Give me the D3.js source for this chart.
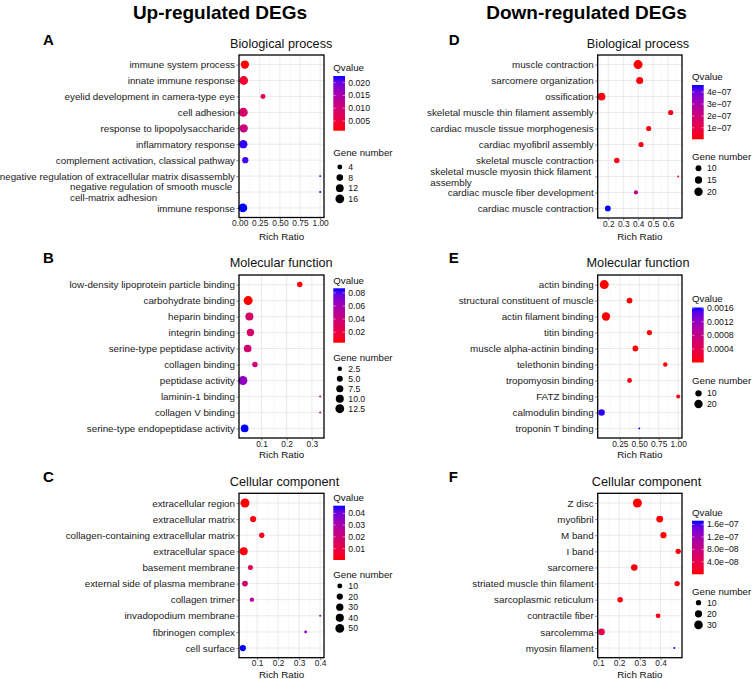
<!DOCTYPE html>
<html><head><meta charset="utf-8">
<script src="https://cdn.jsdelivr.net/npm/d3@7"></script>
<style>
body{margin:0;background:#fff}
text{font-family:"Liberation Sans",Arial,Helvetica,sans-serif}
</style>
</head><body>
<svg id="chart" width="753" height="679"></svg>
<script>
// ---------------- DATA ----------------
// A: Up-regulated, Biological process
const bpUpTerms = ["immune system process","innate immune response","eyelid development in camera-type eye","cell adhesion","response to lipopolysaccharide","inflammatory response","complement activation, classical pathway","negative regulation of extracellular matrix disassembly","negative regulation of smooth muscle \ncell-matrix adhesion","immune response"];
const bpUpRatio = [0.065,0.05,0.29,0.045,0.05,0.045,0.07,1.0,1.0,0.04];
const bpUpGenes = [14,16,4,17,14,14,7,1,1,16];
const bpUpQ = [0.0012,0.0038,0.0055,0.0087,0.0108,0.0220,0.0215,0.0226,0.0226,0.0226];
const bpUpXTicks = [0,0.25,0.5,0.75,1.0];
const bpUpXLabels = ["0.00","0.25","0.50","0.75","1.00"];
const bpUpQBreaks = [0.005,0.010,0.015,0.020];
const bpUpQLabels = ["0.005","0.010","0.015","0.020"];
const bpUpGeneBreaks = [4,8,12,16];
const bpUpGeneLabels = ["4","8","12","16"];

// B: Up-regulated, Molecular function
const mfUpTerms = ["low-density lipoprotein particle binding","carbohydrate binding","heparin binding","integrin binding","serine-type peptidase activity","collagen binding","peptidase activity","laminin-1 binding","collagen V binding","serine-type endopeptidase activity"];
const mfUpRatio = [0.252,0.047,0.052,0.056,0.045,0.074,0.026,0.333,0.333,0.033];
const mfUpGenes = [4,13,10,8,9,4,13,1,1,9];
const mfUpQ = [0.0055,0.004,0.033,0.033,0.0355,0.039,0.066,0.0555,0.0555,0.087];
const mfUpXTicks = [0.1,0.2,0.3];
const mfUpXLabels = ["0.1","0.2","0.3"];
const mfUpQBreaks = [0.02,0.04,0.06,0.08];
const mfUpQLabels = ["0.02","0.04","0.06","0.08"];
const mfUpGeneBreaks = [2.5,5,7.5,10,12.5];
const mfUpGeneLabels = ["2.5","5.0","7.5","10.0","12.5"];

// C: Up-regulated, Cellular component
const ccUpTerms = ["extracellular region","extracellular matrix","collagen-containing extracellular matrix","extracellular space","basement membrane","external side of plasma membrane","collagen trimer","invadopodium membrane","fibrinogen complex","cell surface"];
const ccUpRatio = [0.042,0.081,0.122,0.036,0.068,0.042,0.075,0.40,0.331,0.032];
const ccUpGenes = [52,20,13,39,11,16,7,1,2,20];
const ccUpQ = [0.0002,0.0016,0.0025,0.0011,0.0118,0.0188,0.0257,0.0327,0.0336,0.0466];
const ccUpXTicks = [0.1,0.2,0.3,0.4];
const ccUpXLabels = ["0.1","0.2","0.3","0.4"];
const ccUpQBreaks = [0.01,0.02,0.03,0.04];
const ccUpQLabels = ["0.01","0.02","0.03","0.04"];
const ccUpGeneBreaks = [10,20,30,40,50];
const ccUpGeneLabels = ["10","20","30","40","50"];

// D: Down-regulated, Biological process
const bpDownTerms = ["muscle contraction","sarcomere organization","ossification","skeletal muscle thin filament assembly","cardiac muscle tissue morphogenesis","cardiac myofibril assembly","skeletal muscle contraction","skeletal muscle myosin thick filament \nassembly","cardiac muscle fiber development","cardiac muscle contraction"];
const bpDownRatio = [0.399,0.41,0.155,0.617,0.47,0.419,0.257,0.667,0.385,0.197];
const bpDownGenes = [23,14,17,8,8,8,9,4,6,10];
const bpDownQ = [3e-9,1e-8,1.5e-8,2e-8,2.5e-8,2e-8,3e-8,4e-8,2.3e-7,4.6e-7];
const bpDownXTicks = [0.2,0.3,0.4,0.5,0.6];
const bpDownXLabels = ["0.2","0.3","0.4","0.5","0.6"];
const bpDownQBreaks = [1e-7,2e-7,3e-7,4e-7];
const bpDownQLabels = ["1e\u221207","2e\u221207","3e\u221207","4e\u221207"];
const bpDownGeneBreaks = [10,15,20];
const bpDownGeneLabels = ["10","15","20"];

// E: Down-regulated, Molecular function
const mfDownTerms = ["actin binding","structural constituent of muscle","actin filament binding","titin binding","muscle alpha-actinin binding","telethonin binding","tropomyosin binding","FATZ binding","calmodulin binding","troponin T binding"];
const mfDownRatio = [0.05,0.375,0.072,0.63,0.45,0.835,0.375,1.0,0.015,0.5];
const mfDownGenes = [24,8,20,6,8,4,5,3,11,1];
const mfDownQ = [1e-6,2e-6,5e-6,1e-5,2e-5,3e-5,5e-5,6e-5,0.00158,0.00162];
const mfDownXTicks = [0.25,0.5,0.75,1.0];
const mfDownXLabels = ["0.25","0.50","0.75","1.00"];
const mfDownQBreaks = [0.0004,0.0008,0.0012,0.0016];
const mfDownQLabels = ["0.0004","0.0008","0.0012","0.0016"];
const mfDownGeneBreaks = [10,20];
const mfDownGeneLabels = ["10","20"];

// F: Down-regulated, Cellular component
const ccDownTerms = ["Z disc","myofibril","M band","I band","sarcomere","striated muscle thin filament","sarcoplasmic reticulum","contractile fiber","sarcolemma","myosin filament"];
const ccDownRatio = [0.288,0.396,0.414,0.485,0.273,0.48,0.205,0.388,0.115,0.466];
const ccDownGenes = [33,18,14,10,16,10,11,8,16,3];
const ccDownQ = [1e-10,1e-9,2e-9,3e-9,4e-9,5e-9,6e-9,8e-9,4.3e-8,1.72e-7];
const ccDownXTicks = [0.1,0.2,0.3,0.4];
const ccDownXLabels = ["0.1","0.2","0.3","0.4"];
const ccDownQBreaks = [4e-8,8e-8,1.2e-7,1.6e-7];
const ccDownQLabels = ["4.0e\u221208","8.0e\u221208","1.2e\u221207","1.6e\u221207"];
const ccDownGeneBreaks = [10,20,30];
const ccDownGeneLabels = ["10","20","30"];

const headers = ["Up-regulated DEGs","Down-regulated DEGs"];
const panelTitles = ["Biological process","Molecular function","Cellular component"];
const panelLetters = ["A","B","C","D","E","F"];
const xAxisTitle = "Rich Ratio";

// ---------------- DRAWING ----------------
const svg = d3.select("#chart");
const defs = svg.append("defs");
const K = 0.5; // size scale factor
const FS_Y = 9.8, FS_X = 8.4;

svg.append("text").attr("x",220).attr("y",19).attr("text-anchor","middle")
  .attr("font-size",19).attr("font-weight","bold").text(headers[0]);
svg.append("text").attr("x",586.5).attr("y",19).attr("text-anchor","middle")
  .attr("font-size",19).attr("font-weight","bold").text(headers[1]);

const panels = [
 {terms:bpUpTerms, ratio:bpUpRatio, genes:bpUpGenes, q:bpUpQ, xt:bpUpXTicks, xl:bpUpXLabels, qb:bpUpQBreaks, ql:bpUpQLabels, gb:bpUpGeneBreaks, gl:bpUpGeneLabels,
  title:panelTitles[0], letter:panelLetters[0],
  box:{x0:239,x1:324,y0:55,y1:217.5}, tpos:[281.2,43.3], lpos:[43,45], xty:237,
  leg:{x:333.3,qt:67.7,bt:76,bh:54.7,gt:152.7,i0:167,st:10.6}},
 {terms:mfUpTerms, ratio:mfUpRatio, genes:mfUpGenes, q:mfUpQ, xt:mfUpXTicks, xl:mfUpXLabels, qb:mfUpQBreaks, ql:mfUpQLabels, gb:mfUpGeneBreaks, gl:mfUpGeneLabels,
  title:panelTitles[1], letter:panelLetters[1],
  box:{x0:239,x1:324,y0:275,y1:438}, tpos:[281.2,262.7], lpos:[43,262.7], xty:455,
  leg:{x:333.3,qt:280.7,bt:288.3,bh:54.4,gt:357.3,i0:368.7,st:10}},
 {terms:ccUpTerms, ratio:ccUpRatio, genes:ccUpGenes, q:ccUpQ, xt:ccUpXTicks, xl:ccUpXLabels, qb:ccUpQBreaks, ql:ccUpQLabels, gb:ccUpGeneBreaks, gl:ccUpGeneLabels,
  title:panelTitles[2], letter:panelLetters[2],
  box:{x0:239,x1:324,y0:493.3,y1:657.7}, tpos:[284.5,481.7], lpos:[43,481.7], xty:675,
  leg:{x:333.3,qt:497.3,bt:505.7,bh:54.3,gt:575,i0:586,st:10.6}},
 {terms:bpDownTerms, ratio:bpDownRatio, genes:bpDownGenes, q:bpDownQ, xt:bpDownXTicks, xl:bpDownXLabels, qb:bpDownQBreaks, ql:bpDownQLabels, gb:bpDownGeneBreaks, gl:bpDownGeneLabels,
  title:panelTitles[0], letter:panelLetters[3],
  box:{x0:597.7,x1:682,y0:55,y1:218}, tpos:[638,43.3], lpos:[448.7,45], xty:236.5,
  leg:{x:692,qt:76.7,bt:85,bh:54.3,gt:157,i0:168.3,st:11.7}},
 {terms:mfDownTerms, ratio:mfDownRatio, genes:mfDownGenes, q:mfDownQ, xt:mfDownXTicks, xl:mfDownXLabels, qb:mfDownQBreaks, ql:mfDownQLabels, gb:mfDownGeneBreaks, gl:mfDownGeneLabels,
  title:panelTitles[1], letter:panelLetters[4],
  box:{x0:597.7,x1:682,y0:275,y1:438}, tpos:[638,262.7], lpos:[448.7,262.7], xty:455,
  leg:{x:692,qt:298.5,bt:307.5,bh:55,gt:381,i0:393.3,st:10.7}},
 {terms:ccDownTerms, ratio:ccDownRatio, genes:ccDownGenes, q:ccDownQ, xt:ccDownXTicks, xl:ccDownXLabels, qb:ccDownQBreaks, ql:ccDownQLabels, gb:ccDownGeneBreaks, gl:ccDownGeneLabels,
  title:panelTitles[2], letter:panelLetters[5],
  box:{x0:597.7,x1:682,y0:493.3,y1:657.7}, tpos:[646.5,481.7], lpos:[448.7,481.7], xty:674.5,
  leg:{x:692,qt:512.3,bt:520.7,bh:53.6,gt:591.7,i0:602.7,st:11.1}}
];

panels.forEach((p, pi) => drawPanel(p, pi));

function drawPanel(p, pi) {
  const g = svg.append("g");
  const b = p.box;
  const xr = d3.extent(p.ratio), xrng = xr[1]-xr[0];
  const x = d3.scaleLinear().domain([xr[0]-0.05*xrng, xr[1]+0.05*xrng]).range([b.x0,b.x1]);
  const y = d3.scalePoint().domain(d3.range(p.terms.length)).range([b.y0,b.y1]).padding(0.6);
  const qr = d3.extent(p.q);
  const col = d3.scaleLinear().domain(qr).range(["#ff0000","#0000ff"]).interpolate(d3.interpolateLab);
  const gr = d3.extent(p.genes);
  const diam = v => K*(2.845*(1+5*Math.sqrt(Math.max(0,(v-gr[0])/(gr[1]-gr[0]))))+0.945);

  // panel letter & title
  g.append("text").attr("x",p.lpos[0]).attr("y",p.lpos[1]).attr("font-size",15).attr("font-weight","bold").text(p.letter);
  g.append("text").attr("x",p.tpos[0]).attr("y",p.tpos[1]).attr("dy","0.35em").attr("text-anchor","middle")
    .attr("font-size",12.7).attr("fill","#111").text(p.title);

  // grid: minor then major
  const dom = x.domain();
  const step = p.xt[1]-p.xt[0];
  const minors = [p.xt[0]-step/2].concat(p.xt.map(t=>t+step/2)).filter(v=>v>dom[0]&&v<dom[1]);
  g.selectAll(".gmin").data(minors).join("line")
    .attr("x1",d=>x(d)).attr("x2",d=>x(d)).attr("y1",b.y0).attr("y2",b.y1)
    .attr("stroke","#f0f0f0").attr("stroke-width",0.5);
  g.selectAll(".gmaj").data(p.xt).join("line")
    .attr("x1",d=>x(d)).attr("x2",d=>x(d)).attr("y1",b.y0).attr("y2",b.y1)
    .attr("stroke","#e4e4e4").attr("stroke-width",0.8);
  g.selectAll(".gy").data(d3.range(p.terms.length)).join("line")
    .attr("x1",b.x0).attr("x2",b.x1).attr("y1",d=>y(d)).attr("y2",d=>y(d))
    .attr("stroke","#e4e4e4").attr("stroke-width",0.8);

  // points
  g.selectAll(".pt").data(d3.range(p.terms.length)).join("circle")
    .attr("cx",i=>x(p.ratio[i])).attr("cy",i=>y(i))
    .attr("r",i=>diam(p.genes[i])/2).attr("fill",i=>col(p.q[i]));

  // border
  g.append("rect").attr("x",b.x0).attr("y",b.y0).attr("width",b.x1-b.x0).attr("height",b.y1-b.y0)
    .attr("fill","none").attr("stroke","#000").attr("stroke-width",1.3);

  // x axis
  const xa = g.append("g").attr("transform",`translate(0,${b.y1})`)
    .call(d3.axisBottom(x).tickValues(p.xt).tickFormat((d,i)=>p.xl[i]).tickSize(2.5).tickPadding(0.2));
  xa.select(".domain").remove();
  xa.selectAll(".tick line").attr("stroke","#333").attr("stroke-width",0.6);
  xa.selectAll(".tick text").attr("font-size",FS_X).attr("fill","#222").attr("font-family",null);

  // y axis
  const ya = g.append("g").attr("transform",`translate(${b.x0},0)`)
    .call(d3.axisLeft(y).tickFormat(i=>p.terms[i].replace("\n","")).tickSize(2.5).tickPadding(1.5));
  ya.select(".domain").remove();
  ya.selectAll(".tick line").attr("stroke","#333").attr("stroke-width",0.6);
  ya.selectAll(".tick text").attr("font-size",FS_Y).attr("fill","#1a1a1a").attr("font-family",null);
  ya.selectAll(".tick text").each(function(i){
    const t = p.terms[i];
    if (t.indexOf("\n") < 0) return;
    const lines = t.split("\n");
    const el = d3.select(this);
    el.text(null).attr("text-anchor","start").attr("dy",null);
    const tmp = el.append("tspan").text(lines[0].trim());
    const w1 = tmp.node().getComputedTextLength() + 0.278*FS_Y;
    tmp.text(lines[1].trim());
    const w2 = tmp.node().getComputedTextLength();
    tmp.remove();
    const sx = -4 - Math.max(w1,w2);
    const lh = 11;
    lines.forEach((ln,k)=>{
      el.append("tspan").attr("x",sx)
        .attr("dy", k===0 ? (-(lines.length-1)/2*lh + 0.34*FS_Y) : lh)
        .text(ln.trim());
    });
  });

  // x title
  g.append("text").attr("x",(b.x0+b.x1)/2).attr("y",p.xty).attr("dy","0.35em").attr("text-anchor","middle")
    .attr("font-size",9.8).attr("fill","#111").text(xAxisTitle);

  // legend: Qvalue colorbar
  const L = p.leg;
  g.append("text").attr("x",L.x).attr("y",L.qt).attr("dy","0.35em").attr("font-size",9.7).attr("fill","#111").text("Qvalue");
  const gid = "grad"+pi;
  const grad = defs.append("linearGradient").attr("id",gid).attr("x1",0).attr("y1",1).attr("x2",0).attr("y2",0);
  d3.range(0,1.0001,0.1).forEach(t=>{
    grad.append("stop").attr("offset",t).attr("stop-color",col(qr[0]+t*(qr[1]-qr[0])));
  });
  const bw = 11.7;
  g.append("rect").attr("x",L.x).attr("y",L.bt).attr("width",bw).attr("height",L.bh).attr("fill",`url(#${gid})`);
  const cy = d3.scaleLinear().domain(qr).range([L.bt+L.bh, L.bt]);
  p.qb.forEach((v,k)=>{
    const yy = cy(v);
    g.append("line").attr("x1",L.x).attr("x2",L.x+2.3).attr("y1",yy).attr("y2",yy).attr("stroke","#fff").attr("stroke-width",0.5);
    g.append("line").attr("x1",L.x+bw-2.3).attr("x2",L.x+bw).attr("y1",yy).attr("y2",yy).attr("stroke","#fff").attr("stroke-width",0.5);
    g.append("text").attr("x",L.x+15).attr("y",yy).attr("dy","0.35em").attr("font-size",8.7).attr("fill","#111").text(p.ql[k]);
  });

  // legend: Gene number
  g.append("text").attr("x",L.x).attr("y",L.gt).attr("dy","0.35em").attr("font-size",9.7).attr("fill","#111").text("Gene number");
  p.gb.forEach((v,k)=>{
    const yy = L.i0 + k*L.st;
    g.append("circle").attr("cx",L.x+6.5).attr("cy",yy).attr("r",diam(v)/2).attr("fill","#000");
    g.append("text").attr("x",L.x+15).attr("y",yy).attr("dy","0.35em").attr("font-size",8.7).attr("fill","#111").text(p.gl[k]);
  });
}
</script>
</body></html>
